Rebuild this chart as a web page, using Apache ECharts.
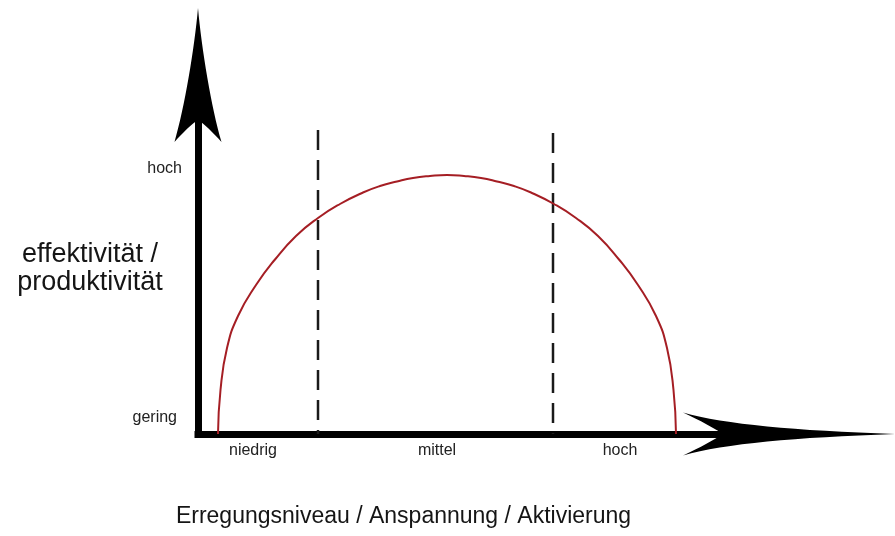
<!DOCTYPE html>
<html>
<head>
<meta charset="utf-8">
<script src="https://cdn.jsdelivr.net/npm/echarts@6/dist/echarts.min.js"></script>
<style>
  html, body { margin: 0; background: #fff; }
  #chart { width: 895px; height: 536px; }
</style>
</head>
<body>
<div id="chart"></div>
<script>
// Yerkes-Dodson curve, values (0,0 = corner of the axes)
const curveX = [20, 22.5, 29, 40, 58, 77, 98, 120, 142, 165, 182, 199, 215, 232, 249,
                266, 283, 299, 316, 333, 356, 378, 400, 421, 440, 458, 469, 475.5, 478];
const curveY = [0, 44, 86, 118, 149, 174.5, 198, 216, 230, 241.5, 248, 252.5, 256, 258, 259,
                258, 256, 252.5, 248, 241.5, 230, 216, 198, 174.5, 149, 118, 86, 44, 0];

// dashed separators between the three arousal levels
const dividerX = [120, 355];
const dividerTop = [304, 301];

// level labels on both axes
const xLevels = ['niedrig', 'mittel', 'hoch'];
const xLevelValues = [55, 239, 422];
const yLevels = ['gering', 'hoch'];
const yLevelValues = [16, 265.5];

const xTitle = 'Erregungsniveau / Anspannung / Aktivierung';
const yTitleLines = ['effektivität /', 'produktivität'];

// concave arrow heads, drawn pointing up (sized 1:1 to symbolSize)
const yArrow = 'path://M23.5 0 C20 40 10 100 0 134 C8 125 18 115 23.5 112 C29 115 39 125 47 134 C37 100 27 40 23.5 0 Z';
const xArrow = 'path://M21.5 0 C18 100 12 170 0 212 C8 195 16 180 21.5 172 C27 180 35 195 43 212 C31 170 25 100 21.5 0 Z';

const chart = echarts.init(document.getElementById('chart'), null, { renderer: 'canvas' });

const curveData = curveX.map((x, i) => [x, curveY[i]]);

const dividerSeries = dividerX.map((x, i) => ({
  type: 'line',
  data: [[x, dividerTop[i]], [x, 0]],
  showSymbol: false,
  silent: true,
  lineStyle: { color: '#1a1a1a', width: 2.5, type: [20, 10] },
  z: 3
}));

// spacer line pushes the two-line title a little below the axis middle
const yTitle = ['{gap| }'].concat(yTitleLines.map(s => '{t|' + s + '}')).join('\n');

chart.setOption({
  animation: false,
  backgroundColor: '#fff',
  textStyle: { fontFamily: '"Liberation Sans", Arial, sans-serif' },
  grid: { left: 198, right: 106, top: 75, bottom: 102, containLabel: false, outerBoundsMode: 'none' },
  xAxis: {
    type: 'value',
    min: 0,
    max: 591,
    name: xTitle,
    nameLocation: 'middle',
    nameGap: 71,
    nameMoveOverlap: false,
    nameTextStyle: { fontSize: 23, color: '#151515', padding: [0, 180, 0, 0] },
    axisLine: {
      symbol: ['none', xArrow],
      symbolSize: [43, 212],
      lineStyle: { color: '#000', width: 7, cap: 'square' }
    },
    axisTick: { show: false },
    splitLine: { show: false },
    axisLabel: {
      customValues: xLevelValues,
      formatter: v => xLevels[xLevelValues.indexOf(v)] || '',
      margin: 9,
      fontSize: 16,
      color: '#222'
    }
  },
  yAxis: {
    type: 'value',
    min: 0,
    max: 359,
    name: yTitle,
    nameLocation: 'middle',
    nameRotate: 0,
    nameGap: 108,
    nameMoveOverlap: false,
    nameTextStyle: {
      align: 'center',
      rich: {
        gap: { fontSize: 10, lineHeight: 28 },
        t: { fontSize: 27, lineHeight: 28, color: '#151515' }
      }
    },
    axisLine: {
      symbol: ['none', yArrow],
      symbolSize: [47, 134],
      lineStyle: { color: '#000', width: 7, cap: 'square' }
    },
    axisTick: { show: false },
    splitLine: { show: false },
    axisLabel: {
      customValues: yLevelValues,
      formatter: v => {
        const i = yLevelValues.indexOf(v);
        return i === 0 ? '{low|' + yLevels[i] + '}' : (yLevels[i] || '');
      },
      rich: { low: { fontSize: 16, color: '#222', padding: [0, 5, 0, 0] } },
      margin: 16,
      fontSize: 16,
      color: '#222'
    }
  },
  series: [
    {
      type: 'line',
      data: curveData,
      smooth: 0.5,
      showSymbol: false,
      silent: true,
      lineStyle: { color: '#a51e24', width: 2 },
      z: 4
    }
  ].concat(dividerSeries)
});
</script>
</body>
</html>
